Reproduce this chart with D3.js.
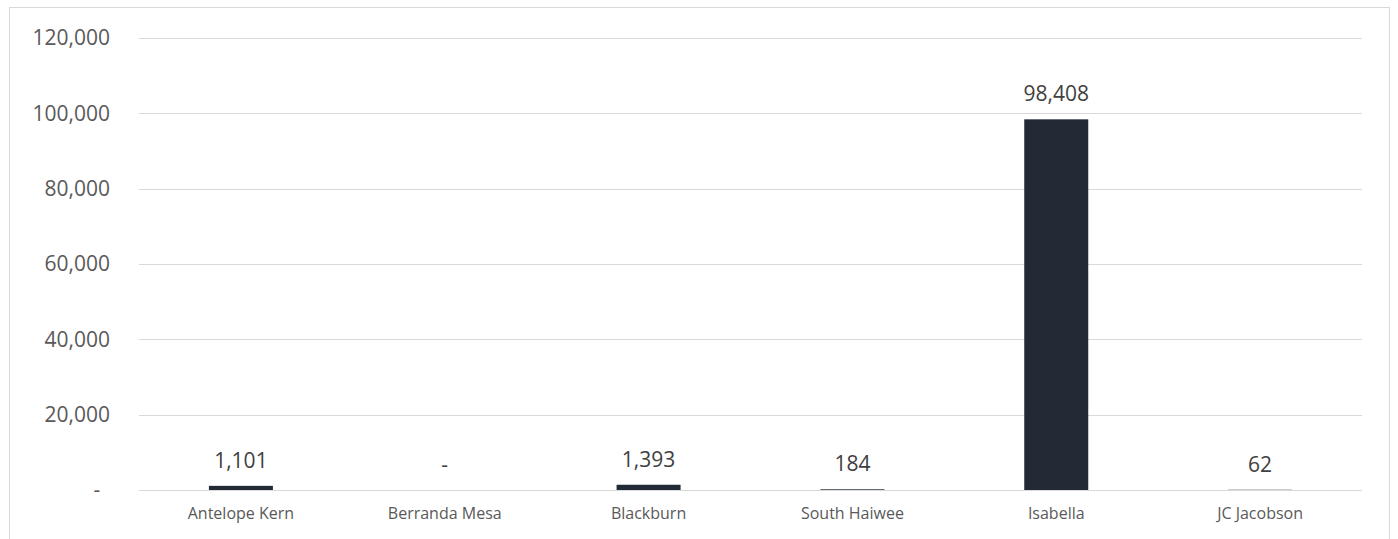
<!DOCTYPE html>
<html><head><meta charset="utf-8">
<script src="https://cdn.jsdelivr.net/npm/d3@7"></script>
<style>body{margin:0;background:#fff;} svg{display:block;}</style>
</head><body>
<svg id="chart" width="1398" height="539"></svg>
<script>
const categories = ["Antelope Kern","Berranda Mesa","Blackburn","South Haiwee","Isabella","JC Jacobson"];
const values = [1101, 0, 1393, 184, 98408, 62];
const yTicks = [0, 20000, 40000, 60000, 80000, 100000, 120000];

const svg = d3.select("#chart");
const W = 1398, H = 539;
const plot = {left:139, right:1362, top:38, bottom:490};
const font = "'Open Sans', sans-serif";

// chart border
svg.append("rect").attr("x",9.5).attr("y",7.5).attr("width",1380).attr("height",H+10)
  .attr("fill","#fff").attr("stroke","#d9d9d9").attr("stroke-width",1);

const x = d3.scaleBand().domain(categories).range([plot.left, plot.right])
  .paddingInner(0.686).paddingOuter(0.343);
const y = d3.scaleLinear().domain([0,120000]).range([plot.bottom, plot.top]);

const fmt = d3.format(",");
const label = v => v === 0 ? "-" : fmt(v);

// gridlines
svg.append("g").selectAll("line").data(yTicks).join("line")
  .attr("x1",plot.left).attr("x2",plot.right)
  .attr("y1",d=>Math.round(y(d))+0.5).attr("y2",d=>Math.round(y(d))+0.5)
  .attr("stroke","#d9d9d9").attr("stroke-width",1);

// y tick labels
svg.append("g").selectAll("text").data(yTicks).join("text")
  .attr("x",d=> d===0 ? 97 : 110)
  .attr("y",d=>y(d))
  .attr("dy","0.35em")
  .attr("text-anchor",d=> d===0 ? "middle" : "end")
  .attr("font-family",font).attr("font-size",21).attr("fill","#595959")
  .text(label);

// bars
svg.append("g").selectAll("rect").data(values).join("rect")
  .attr("x",(d,i)=>x(categories[i]))
  .attr("width",x.bandwidth())
  .attr("y",d=>y(d))
  .attr("height",d=>plot.bottom - y(d))
  .attr("fill","#222a35");

// value labels
svg.append("g").selectAll("text").data(values).join("text")
  .attr("x",(d,i)=>x(categories[i]) + x.bandwidth()/2)
  .attr("y",d=>y(d) - 18)
  .attr("text-anchor","middle")
  .attr("font-family",font).attr("font-size",21).attr("fill","#404040")
  .text(label);

// category labels
svg.append("g").selectAll("text").data(categories).join("text")
  .attr("x",d=>x(d)+x.bandwidth()/2)
  .attr("y",plot.bottom + 29)
  .attr("text-anchor","middle")
  .attr("font-family",font).attr("font-size",16).attr("fill","#595959")
  .text(d=>d);
</script>
</body></html>
